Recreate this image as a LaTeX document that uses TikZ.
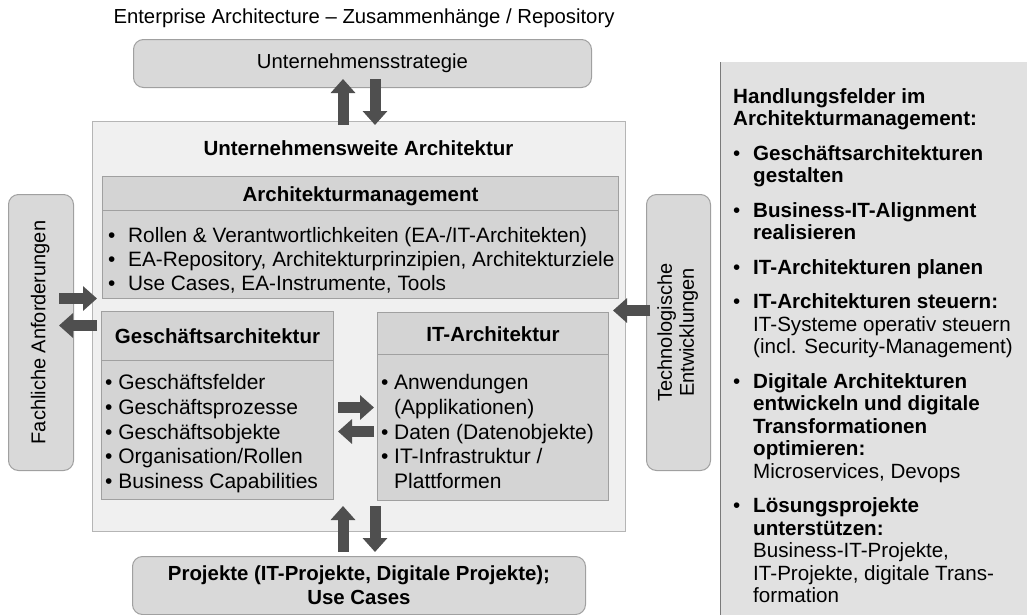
\documentclass[tikz,border=0pt]{standalone}
\usepackage{fontspec}
\setmainfont{Liberation Sans}
\usetikzlibrary{arrows.meta}
\usetikzlibrary{calc}
\definecolor{arrowGray}{HTML}{4F4F4F}
\definecolor{outerFill}{HTML}{F0F0F0}
\definecolor{outerLine}{HTML}{B5B5B5}
\definecolor{boxFill}{HTML}{D4D4D4}
\definecolor{boxLine}{HTML}{A0A0A0}
\definecolor{roundFill}{HTML}{D9D9D9}
\definecolor{panelFill}{HTML}{E1E1E1}
\definecolor{panelLine}{HTML}{7A7A7A}
\newcommand{\listBullet}[1]{\makebox[#1][l]{•}}
\newcommand{\listIndent}[1]{\hspace*{#1}}
\newcommand{\blockArrow}[2]{%%
  \draw[arrowStyle] (#1) -- (#2);
}
\newcommand{\sideText}[1]{\rotatebox{90}{%%
  \begin{tabular}{@{}c@{}}#1\end{tabular}}}

\begin{document}
\begin{tikzpicture}[x=1pt,y=-1pt,%%
  outerStyle/.style={draw=outerLine,fill=outerFill,line width=1pt,inner sep=0pt,anchor=north west},%%
  boxStyle/.style={draw=boxLine,fill=boxFill,line width=1pt,inner sep=0pt,anchor=north west},%%
  headStyle/.style={boxStyle,text height=15pt,text depth=0pt,font=\bfseries\fontsize{20.5}{24}\selectfont},%%
  roundStyle/.style={draw=boxLine,fill=roundFill,line width=1pt,rounded corners=10pt,inner sep=0pt,anchor=north west,font=\fontsize{20}{22}\selectfont},%%
  panelStyle/.style={fill=panelFill,inner sep=0pt,anchor=north west},%%
  listStyle/.style 2 args={inner sep=0pt,anchor=north west,align=left,font=\fontsize{#1}{#2}\selectfont,execute at begin node=\strut},%%
  arrowStyle/.style={-{Triangle[length=14pt,width=24pt]},line width=11pt,draw=arrowGray}%%
]
\useasboundingbox (0,0) rectangle (1027,614);
%%
%% Title line.
\node[font=\fontsize{20.3}{24}\selectfont,inner sep=0pt] (title) at (364,18) {Enterprise Architecture – Zusammenhänge / Repository};
%%
%% Surrounding boxes.
\node[roundStyle,font=\fontsize{20.3}{24}\selectfont,minimum width=458pt,minimum height=48pt] (strategy) at (133,39) {Unternehmensstrategie};
\node[outerStyle,minimum width=533pt,minimum height=410pt] (enterprise) at (92,121) {};
\node[font=\bfseries\fontsize{20.5}{24}\selectfont,inner sep=0pt] (enterpriseTitle) at (358.5,148) {Unternehmensweite Architektur};
\node[roundStyle,minimum width=65pt,minimum height=276pt] (business) at (8,194) {\sideText{Fachliche Anforderungen}};
\node[roundStyle,minimum width=64pt,minimum height=276pt] (technology) at (646,194) {\sideText{Technologische\\Entwicklungen}};
\node[roundStyle,align=center,font=\bfseries\fontsize{20.4}{24}\selectfont,minimum width=453pt,minimum height=58pt] (projects) at (132,556) {Projekte (IT-Projekte, Digitale Projekte);\\Use Cases};
%%
%% Architekturmanagement.
\node[headStyle,minimum width=516pt,minimum height=34pt] (archHead) at (102,176) {Architekturmanagement};
\node[boxStyle,minimum width=516pt,minimum height=88pt] (archBody) at (102,210) {};
\node[listStyle={20.8}{24}] (archList) at (108,227) {%%
  \listBullet{20pt}Rollen \& Verantwortlichkeiten (EA-/IT-Architekten)\\
  \listBullet{20pt}EA-Repository, Architekturprinzipien, Architekturziele\\
  \listBullet{20pt}Use Cases, EA-Instrumente, Tools};
%%
%% Geschaeftsarchitektur.
\node[headStyle,minimum width=232pt,minimum height=49pt] (bizHead) at (101,311) {Geschäftsarchitektur};
\node[boxStyle,minimum width=232pt,minimum height=139pt] (bizBody) at (101,360) {};
\node[listStyle={21}{24.8}] (bizList) at (105,374) {%%
  • Geschäftsfelder\\
  • Geschäftsprozesse\\
  • Geschäftsobjekte\\
  • Organisation/Rollen\\
  • Business Capabilities};
%%
%% IT-Architektur.
\node[headStyle,minimum width=231pt,minimum height=42pt] (itHead) at (377,312) {IT-Architektur};
\node[boxStyle,minimum width=231pt,minimum height=146pt] (itBody) at (377,354) {};
\node[listStyle={21}{24.8}] (itList) at (381,374) {%%
  \listBullet{13pt}Anwendungen\\
  \listIndent{13pt}(Applikationen)\\
  \listBullet{13pt}Daten (Datenobjekte)\\
  \listBullet{13pt}IT-Infrastruktur /\\
  \listIndent{13pt}Plattformen};
%%
%% Handlungsfelder.
\node[panelStyle,minimum width=330pt,minimum height=570pt] (panel) at (720,62) {};
\draw[panelLine,line width=1pt] (panel.north west) -- (panel.south west);
\node[listStyle={20.6}{22.5}] (panelList) at (733,88.3) {%%
  \textbf{Handlungsfelder im}\\
  \textbf{Architekturmanagement:}\\[12pt]
  \listBullet{20pt}\textbf{Geschäftsarchitekturen}\\
  \listIndent{20pt}\textbf{gestalten}\\[12pt]
  \listBullet{20pt}\textbf{Business-IT-Alignment}\\
  \listIndent{20pt}\textbf{realisieren}\\[12pt]
  \listBullet{20pt}\textbf{IT-Architekturen planen}\\[12pt]
  \listBullet{20pt}\textbf{IT-Architekturen steuern:}\\
  \listIndent{20pt}IT-Systeme operativ steuern\\
  \listIndent{20pt}(incl. Security-Management)\\[12pt]
  \listBullet{20pt}\textbf{Digitale Architekturen}\\
  \listIndent{20pt}\textbf{entwickeln und digitale}\\
  \listIndent{20pt}\textbf{Transformationen}\\
  \listIndent{20pt}\textbf{optimieren:}\\
  \listIndent{20pt}Microservices, Devops\\[12pt]
  \listBullet{20pt}\textbf{Lösungsprojekte}\\
  \listIndent{20pt}\textbf{unterstützen:}\\
  \listIndent{20pt}Business-IT-Projekte,\\
  \listIndent{20pt}IT-Projekte, digitale Trans-\\
  \listIndent{20pt}formation};
%%
%% Arrow ends.
\coordinate (topUpTail) at ($(enterprise.north)+(-16,4)$);
\coordinate (topUpTip) at ($(strategy.south -| enterprise.north)+(-16,-9)$);
\coordinate (topDownTail) at ($(strategy.south -| enterprise.north)+(16,-9)$);
\coordinate (topDownTip) at ($(enterprise.north)+(16,4)$);
\coordinate (bottomUpTail) at ($(projects.north)+(-16,-4)$);
\coordinate (bottomUpTip) at ($(enterprise.south)+(-16,-26)$);
\coordinate (bottomDownTail) at ($(enterprise.south)+(16,-26)$);
\coordinate (bottomDownTip) at ($(projects.north)+(16,-4)$);
\coordinate (leftInTail) at ($(business.east)+(-15,-34)$);
\coordinate (leftInTip) at ($(enterprise.west)+(5,-28)$);
\coordinate (leftOutTail) at ($(enterprise.west)+(5,-1)$);
\coordinate (leftOutTip) at ($(business.east)+(-15,-7)$);
\coordinate (rightInTail) at ($(technology.west)+(4,-22)$);
\coordinate (rightInTip) at ($(enterprise.east)+(-13,-16)$);
\coordinate (midRightTail) at ($(bizBody.east)+(4,-22.5)$);
\coordinate (midRightTip) at ($(itBody.west)+(-3,-20)$);
\coordinate (midLeftTail) at ($(itBody.west)+(-3,4)$);
\coordinate (midLeftTip) at ($(bizBody.east)+(4,1.5)$);
%%
%% Block arrows.
\blockArrow{topUpTail}{topUpTip}
\blockArrow{topDownTail}{topDownTip}
\blockArrow{bottomUpTail}{bottomUpTip}
\blockArrow{bottomDownTail}{bottomDownTip}
\blockArrow{leftInTail}{leftInTip}
\blockArrow{leftOutTail}{leftOutTip}
\blockArrow{rightInTail}{rightInTip}
\blockArrow{midRightTail}{midRightTip}
\blockArrow{midLeftTail}{midLeftTip}
\end{tikzpicture}
\end{document}
